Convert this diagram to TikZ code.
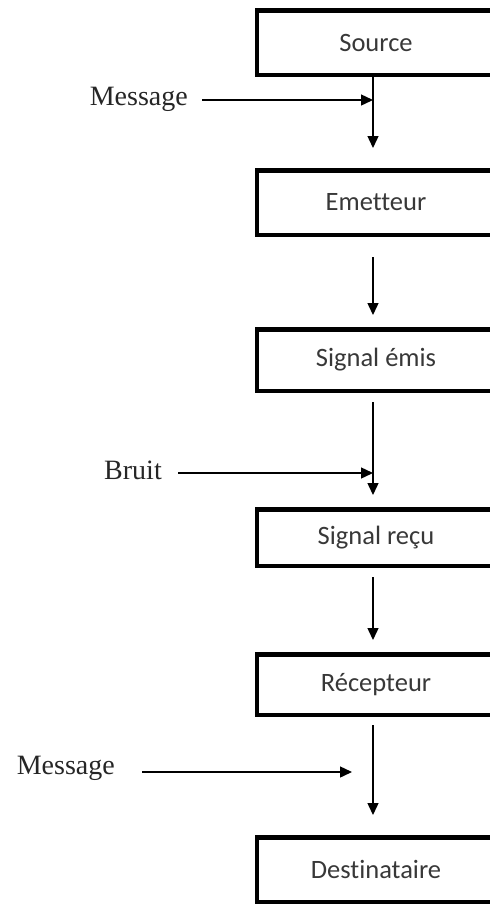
\documentclass[tikz,border=0pt]{standalone}
\usepackage{fontspec}
\setmainfont{Liberation Serif}
\newfontfamily\boxfont[Ligatures=NoCommon]{Carlito}
\usetikzlibrary{arrows.meta}
\begin{document}
\begin{tikzpicture}[x=1pt,y=-1pt,
  stage/.style={draw=black, line width=4.5pt, rectangle, minimum width=237.75pt,
    inner sep=0pt, font=\boxfont\fontsize{26.5}{30}\selectfont, text=black!78},
  flow/.style={-{Triangle[length=12pt,width=11pt]}, line width=1.4pt, draw=black},
  lbl/.style={font=\fontsize{28}{32}\selectfont, text=black!85, inner sep=0pt, anchor=east}]
\useasboundingbox (0,0) rectangle (490,906);
\clip (0,0) rectangle (490,906);

% chain of stages (right border runs off the page)
\node[stage, minimum height=64.5pt] (src)  at (376,42.5)  {Source};
\node[stage, minimum height=64.5pt] (emt)  at (376,202.5) {Emetteur};
\node[stage, minimum height=61.5pt] (sem)  at (376,360)   {Signal émis};
\node[stage, minimum height=56.5pt] (srec) at (376,537.5) {Signal reçu};
\node[stage, minimum height=60.5pt] (rec)  at (376,684.5) {Récepteur};
\node[stage, minimum height=64.5pt] (dst)  at (376,869.5) {Destinataire};

% vertical connectors along the left part of the boxes
\draw[flow, shorten >=20pt]
  ([xshift=-3pt]src.south) -- ([xshift=-3pt]emt.north);
\draw[flow, shorten <=20pt, shorten >=12pt]
  ([xshift=-3pt]emt.south) -- ([xshift=-3pt]sem.north);
\draw[flow, shorten <=9pt, shorten >=12pt]
  ([xshift=-3pt]sem.south) -- ([xshift=-3pt]srec.north);
\draw[flow, shorten <=9pt, shorten >=12pt]
  ([xshift=-3pt]srec.south) -- ([xshift=-3pt]rec.north);
\draw[flow, shorten <=8pt, shorten >=20pt]
  ([xshift=-3pt]rec.south) -- ([xshift=-3pt]dst.north);

% side inputs
\node[lbl] (msg1)  at (188,99)  {Message};
\node[lbl] (bruit) at (162,470) {Bruit};
\node[lbl] (msg2)  at (115,768) {Message};

\coordinate (j1) at (373,100);
\coordinate (j2) at (373,473);
\coordinate (j3) at (352,772);

\draw[flow, shorten <=14pt] (msg1.east |- j1) -- (j1);
\draw[flow, shorten <=16pt] (bruit.east |- j2) -- (j2);
\draw[flow, shorten <=27pt] (msg2.east |- j3) -- (j3);
\end{tikzpicture}
\end{document}
